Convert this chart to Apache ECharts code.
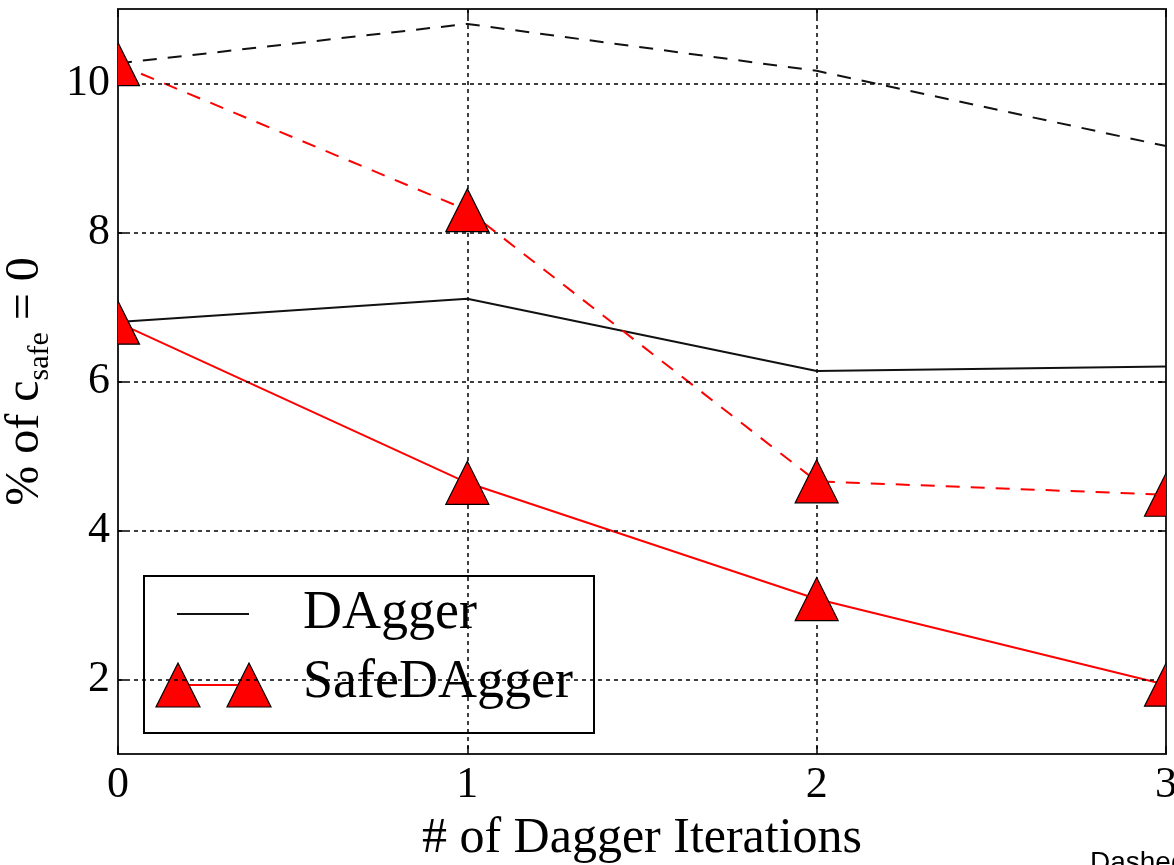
<!DOCTYPE html>
<html>
<head>
<meta charset="utf-8">
<script src="https://cdn.jsdelivr.net/npm/echarts@6/dist/echarts.min.js"></script>
<style>
  html, body { margin: 0; padding: 0; background: #fff; }
  #chart { width: 1174px; height: 865px; }
</style>
</head>
<body>
<div id="chart"></div>
<script>
// ---- data ----
const iterations = [0, 1, 2, 3];
const daggerSolid = [6.80, 7.11, 6.14, 6.20];
const daggerDashed = [10.27, 10.80, 10.17, 9.16];
const safeSolid = [6.79, 4.64, 3.08, 1.93];
const safeDashed = [10.26, 8.30, 4.66, 4.48];
const xTicks = [0, 1, 2, 3];
const yTicks = [2, 4, 6, 8, 10];
const legendNames = ['DAgger', 'SafeDAgger'];

const pairs = (ys) => iterations.map((x, i) => [x, ys[i]]);

const SERIF = '"Liberation Serif", "Times New Roman", serif';
const RED = '#ff0000';
const BLACK = '#111111';
const MS = 21.5; // triangle half-size

function triangleItem(params, api) {
  const p = api.coord([api.value(0), api.value(1)]);
  const cs = params.coordSys;
  return {
    type: 'polygon',
    shape: { points: [[p[0], p[1] - MS], [p[0] - MS, p[1] + MS], [p[0] + MS, p[1] + MS]] },
    style: { fill: RED, stroke: '#000', lineWidth: 1.2 },
    clipPath: { type: 'rect', shape: { x: cs.x, y: cs.y, width: cs.width, height: cs.height } }
  };
}

const chart = echarts.init(document.getElementById('chart'), null, { renderer: 'canvas' });

const gridLine = { show: true, lineStyle: { color: '#000', width: 1.5, type: [4, 4] } };
const tickStyle = { show: true, inside: true, length: 8, lineStyle: { color: '#000', width: 1.5 } };
const frameLine = { show: true, onZero: false, lineStyle: { color: '#222', width: 2 } };

const option = {
  backgroundColor: '#ffffff',
  animation: false,
  grid: { left: 118, right: 8, top: 9, bottom: 111, containLabel: false, outerBoundsMode: 'none' },
  xAxis: [
    {
      type: 'value', min: 0, max: 3, interval: 1, position: 'bottom',
      name: '# of Dagger Iterations', nameLocation: 'middle', nameGap: 60,
      nameTextStyle: { fontFamily: SERIF, fontSize: 50, color: '#000' },
      axisLine: frameLine, axisTick: tickStyle, splitLine: gridLine,
      axisLabel: {
        fontFamily: SERIF, fontSize: 44, color: '#000', margin: 9,
        formatter: (v) => (xTicks.includes(v) ? String(v) : '')
      }
    },
    {
      type: 'value', min: 0, max: 3, interval: 1, position: 'top',
      axisLine: frameLine, axisTick: tickStyle, splitLine: { show: false },
      axisLabel: { show: false }
    }
  ],
  yAxis: [
    {
      type: 'value', min: 1, max: 11, interval: 1, position: 'left',
      name: '{m|% of c}{s|safe}{m| = 0}', nameLocation: 'middle', nameGap: 59,
      nameTextStyle: {
        color: '#000',
        rich: {
          m: { fontFamily: SERIF, fontSize: 48, lineHeight: 60, color: '#000' },
          s: { fontFamily: SERIF, fontSize: 30, lineHeight: 30, verticalAlign: 'bottom', color: '#000' }
        }
      },
      axisLine: frameLine,
      axisTick: {
        show: true, inside: true, length: 8, lineStyle: { color: '#000', width: 1.5 },
        customValues: yTicks
      },
      splitLine: { show: false },
      axisLabel: {
        fontFamily: SERIF, fontSize: 44, color: '#000', margin: 8,
        customValues: yTicks,
        formatter: (v) => String(v)
      }
    },
    {
      type: 'value', min: 1, max: 11, interval: 1, position: 'right',
      axisLine: frameLine,
      axisTick: {
        show: true, inside: true, length: 8, lineStyle: { color: '#000', width: 1.5 },
        customValues: yTicks
      },
      splitLine: { show: false },
      axisLabel: { show: false }
    }
  ],
  series: [
    {
      // horizontal grid lines at the labelled ticks
      type: 'line', data: [], yAxisIndex: 0, silent: true,
      markLine: {
        silent: true, symbol: 'none', label: { show: false },
        lineStyle: { color: '#000', width: 1.5, type: [4, 4] },
        data: yTicks.map((v) => ({ yAxis: v }))
      }
    },
    {
      name: 'DAgger', type: 'line', data: pairs(daggerSolid), symbol: 'none',
      lineStyle: { color: BLACK, width: 2 }, clip: true, z: 3
    },
    {
      name: 'DAgger (dashed)', type: 'line', data: pairs(daggerDashed), symbol: 'none',
      lineStyle: { color: BLACK, width: 2, type: [14, 11] }, clip: true, z: 3
    },
    {
      name: 'SafeDAgger', type: 'line', data: pairs(safeSolid), symbol: 'none',
      lineStyle: { color: RED, width: 2 }, clip: true, z: 3
    },
    {
      name: 'SafeDAgger (dashed)', type: 'line', data: pairs(safeDashed), symbol: 'none',
      lineStyle: { color: RED, width: 2, type: [14, 11] }, clip: true, z: 3
    },
    {
      name: 'SafeDAgger markers', type: 'custom', data: pairs(safeSolid),
      renderItem: triangleItem, clip: true, z: 5
    },
    {
      name: 'SafeDAgger dashed markers', type: 'custom', data: pairs(safeDashed),
      renderItem: triangleItem, clip: true, z: 5
    }
  ],
  graphic: [
    {
      type: 'group', left: 143, top: 575, z: 100,
      children: [
        { type: 'rect', shape: { x: 0, y: 0, width: 450, height: 157 },
          style: { fill: '#fff', stroke: '#000', lineWidth: 2 } },
        { type: 'line', shape: { x1: 33, y1: 38, x2: 105, y2: 38 },
          style: { stroke: BLACK, lineWidth: 2 } },
        { type: 'line', shape: { x1: 34, y1: 109, x2: 105, y2: 109 },
          style: { stroke: RED, lineWidth: 2 } },
        { type: 'polygon', shape: { points: [[34, 109 - 22], [34 - 22, 109 + 22], [34 + 22, 109 + 22]] },
          style: { fill: RED, stroke: '#000', lineWidth: 1.2 } },
        { type: 'polygon', shape: { points: [[105, 109 - 22], [105 - 22, 109 + 22], [105 + 22, 109 + 22]] },
          style: { fill: RED, stroke: '#000', lineWidth: 1.2 } },
        { type: 'text', x: 159, y: 38,
          style: { text: legendNames[0], fontFamily: SERIF, fontSize: 54, fill: '#000', verticalAlign: 'middle' } },
        { type: 'text', x: 159, y: 107,
          style: { text: legendNames[1], fontFamily: SERIF, fontSize: 54, fill: '#000', verticalAlign: 'middle' } }
      ]
    },
    {
      type: 'text', left: 1090, top: 849, z: 100,
      style: { text: 'Dashed', fontFamily: '"Liberation Sans", Arial, sans-serif', fontSize: 28, fill: '#000' }
    }
  ]
};

chart.setOption(option);
</script>
</body>
</html>
